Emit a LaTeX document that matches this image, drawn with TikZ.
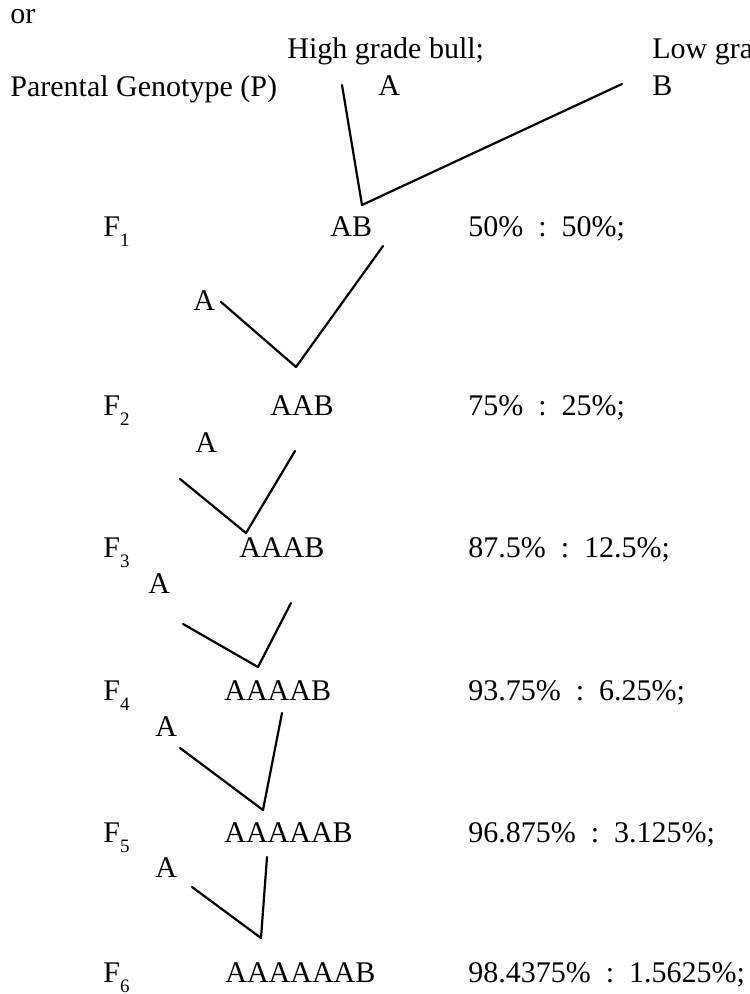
\documentclass[tikz,border=0pt]{standalone}
\usepackage{fontspec}
\setmainfont{Liberation Serif}
\newcommand{\gen}[1]{F\raisebox{-5pt}{\fontsize{9.5}{10}\selectfont #1}}

\begin{document}
\begin{tikzpicture}[x=0.5pt,y=-0.5pt,line join=round,line cap=round]
	\tikzset{every node/.style={font=\fontsize{15}{18}\selectfont,inner sep=0pt,anchor=base west},
		cross/.style={line width=1.1pt}}
	\useasboundingbox (0,0) rectangle (749,994);
	\node (or) at (10,24) {or};
	\node (high) at (287,59) {High grade bull;};
	\node (low) at (652,59) {Low grade};
	\node (par) at (10,97) {Parental Genotype (P)};
	\node (pa) at (378,96) {A};
	\node (pb) at (652,96) {B};
	\coordinate (pl) at (342,85);
	\coordinate (pr) at (622,84);
	\coordinate (v0) at (362,205);
	\draw[cross] (pl)--(v0)--(pr);
	% generations
	\foreach \i/\y/\xg/\g/\p in {1/237/330/AB/{50\%~~:~~50\%;},2/415/270/AAB/{75\%~~:~~25\%;},
		3/557/239/AAAB/{87.5\%~~:~~12.5\%;},4/700/224/AAAAB/{93.75\%~~:~~6.25\%;},
		5/842/224/AAAAAB/{96.875\%~~:~~3.125\%;},6/982/225/AAAAAAB/{98.4375\%~~:~~1.5625\%;}}
	{
		\node (f\i) at (103,\y) {\gen{\i}};
		\node (g\i) at (\xg,\y) {\g};
		\node (r\i) at (468,\y) {\p};
	}
	% back crosses with A
	\foreach \i/\ax/\ay/\lx/\ly/\tx/\ty/\vx/\vy in {1/193/310/221/302/383/246/296/367,
		2/195/452/180/479/295/451/246/533,3/148/593/183/624/291/603/258/667,
		4/155/736/180/748/282/713/263/810,5/155/877/192/887/267/857/261/938}
	{
		\node (a\i) at (\ax,\ay) {A};
		\coordinate (l\i) at (\lx,\ly);
		\coordinate (t\i) at (\tx,\ty);
		\coordinate (v\i) at (\vx,\vy);
		\draw[cross] (l\i)--(v\i)--(t\i);
	}
\end{tikzpicture}
\end{document}
